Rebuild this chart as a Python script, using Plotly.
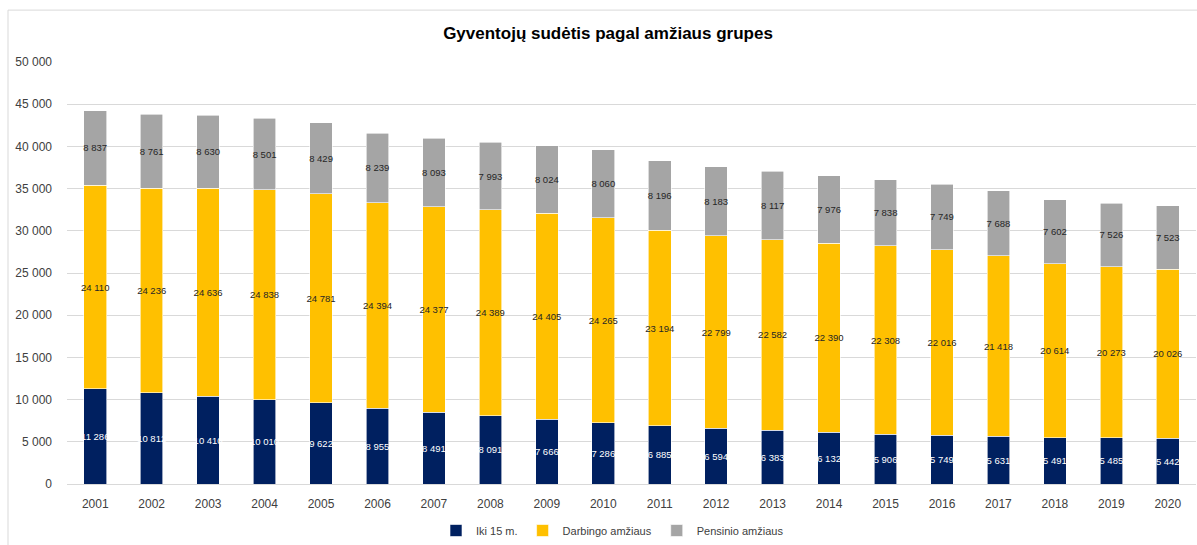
import plotly.graph_objects as go

years = [str(y) for y in range(2001, 2021)]
iki_15 = [11286, 10812, 10410, 10010, 9622, 8955, 8491, 8091, 7666, 7286,
          6885, 6594, 6383, 6132, 5906, 5749, 5631, 5491, 5485, 5442]
darbingo = [24110, 24236, 24636, 24838, 24781, 24394, 24377, 24389, 24405, 24265,
            23194, 22799, 22582, 22390, 22308, 22016, 21418, 20614, 20273, 20026]
pensinio = [8837, 8761, 8630, 8501, 8429, 8239, 8093, 7993, 8024, 8060,
            8196, 8183, 8117, 7976, 7838, 7749, 7688, 7602, 7526, 7523]

series = [
    ("Iki 15 m.", iki_15, "#002060", "#FFFFFF"),
    ("Darbingo amžiaus", darbingo, "#FFC000", "#262626"),
    ("Pensinio amžiaus", pensinio, "#A5A5A5", "#262626"),
]

FONT = "Liberation Sans"

fig = go.Figure()
for name, vals, color, txtcolor in series:
    fig.add_trace(go.Bar(
        x=years, y=vals, name=name,
        marker=dict(color=color, line=dict(color="#FFFFFF", width=0.6)),
        texttemplate="%{y:,d}", textposition="inside",
        insidetextanchor="middle", textangle=0, constraintext="none",
        textfont=dict(family=FONT, size=9.5, color=txtcolor),
        hoverinfo="skip",
    ))

ML, MR, MT, MB = 67, 1, 62, 60
W, H = 1197, 545
pw, ph = W - ML - MR, H - MT - MB

def px_x(x):
    return (x - ML) / pw

def px_y(y):
    return (H - MB - y) / ph

fig.update_layout(
    width=W, height=H,
    barmode="stack", bargap=0.6,
    separators=", ",
    paper_bgcolor="white", plot_bgcolor="white",
    margin=dict(l=ML, r=MR, t=MT, b=MB),
    title=dict(text="<b>Gyventojų sudėtis pagal amžiaus grupes</b>",
               x=608 / W, xanchor="center", y=1 - 33 / H, yanchor="middle",
               font=dict(family=FONT, size=17, color="#000000")),
    font=dict(family=FONT, size=12, color="#595959"),
    xaxis=dict(type="category", showgrid=False, showline=True,
               linecolor="#D9D9D9", linewidth=1, ticks="",
               ticklabelstandoff=9,
               tickfont=dict(size=12, color="#404040")),
    yaxis=dict(range=[0, 50000], dtick=5000, tickformat=",d",
               showgrid=True, gridcolor="#D9D9D9", gridwidth=1,
               zeroline=False, ticks="", ticklabelstandoff=14,
               tickfont=dict(size=12, color="#404040")),
    legend=dict(orientation="h", x=px_x(453 - 17),
                xanchor="left", y=px_y(531), yanchor="middle",
                font=dict(size=11, color="#404040"),
                traceorder="normal", itemwidth=30),
    shapes=[dict(type="rect", xref="paper", yref="paper",
                 x0=px_x(8), x1=px_x(1210), y0=px_y(560), y1=px_y(10),
                 line=dict(color="#D9D9D9", width=1), fillcolor="rgba(0,0,0,0)",
                 layer="below")],
)

fig.write_html("out.html")
